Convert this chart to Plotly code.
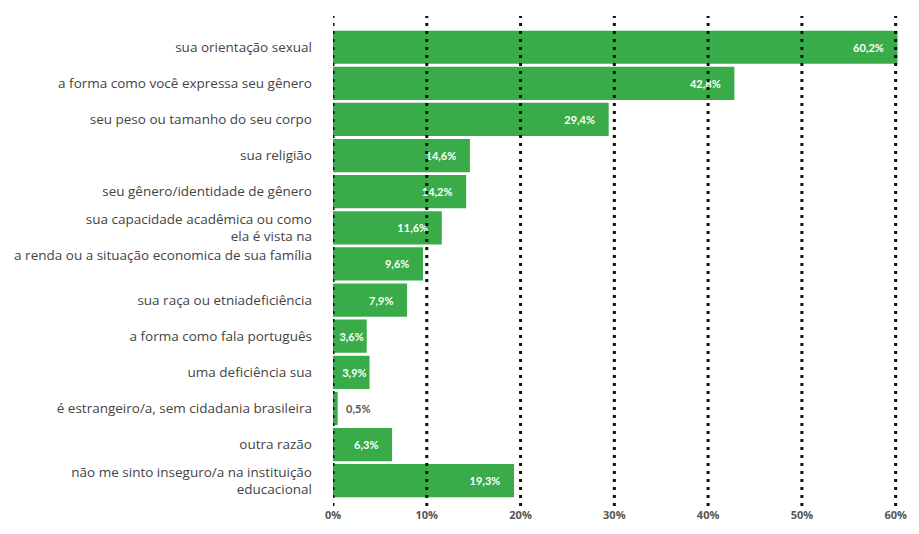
import plotly.graph_objects as go

categories = [
    "sua orientação sexual",
    "a forma como você expressa seu gênero",
    "seu peso ou tamanho do seu corpo",
    "sua religião",
    "seu gênero/identidade de gênero",
    "sua capacidade acadêmica ou como<br>ela é vista na",
    "a renda ou a situação economica de sua família<br> ",
    "sua raça ou etniadeficiência",
    "a forma como fala português",
    "uma deficiência sua",
    "é estrangeiro/a, sem cidadania brasileira",
    "outra razão",
    "não me sinto inseguro/a na instituição<br>educacional",
]
values = [60.2, 42.8, 29.4, 14.6, 14.2, 11.6, 9.6, 7.9, 3.6, 3.9, 0.5, 6.3, 19.3]
tick_values = [0, 10, 20, 30, 40, 50, 60]
tick_labels = ["0%", "10%", "20%", "30%", "40%", "50%", "60%"]

GREEN = "#39AB48"
PAD = "\u00a0" * 4

labels = []
positions = []
colors = []
for v in values:
    s = f"{v:.1f}".replace(".", ",") + "%"
    if v < 2:
        labels.append("\u00a0\u00a0" + s)
        positions.append("outside")
        colors.append("#555555")
    elif v < 5:
        labels.append(s)
        positions.append("inside")
        colors.append("white")
    else:
        labels.append(s + PAD)
        positions.append("inside")
        colors.append("white")

fig = go.Figure(
    go.Bar(
        x=values,
        y=categories,
        orientation="h",
        marker=dict(color=GREEN, line=dict(width=0)),
        text=labels,
        textposition=positions,
        insidetextanchor="end",
        textfont=dict(family="Lato", size=11, color=colors, weight="bold"),
        cliponaxis=False,
        constraintext="none",
    )
)

for t in tick_values:
    fig.add_shape(
        type="line", xref="x", yref="paper", x0=t, x1=t, y0=0, y1=1,
        line=dict(color="#111111", width=3, dash="3px,5px"), layer="above",
    )

fig.update_layout(
    width=919, height=534,
    margin=dict(l=333, r=16, t=16, b=16),
    plot_bgcolor="white", paper_bgcolor="white",
    bargap=0.08,
    showlegend=False,
    font=dict(family="Open Sans", color="#444444"),
)
fig.update_xaxes(
    range=[0, 60.25], tickmode="array", tickvals=tick_values, ticktext=tick_labels,
    showgrid=False, zeroline=False, showline=False,
    tickfont=dict(size=11, color="#555555", weight="bold"), ticks="", ticklabelstandoff=1,
)
fig.update_yaxes(
    range=[12.7, -0.865], showgrid=False, zeroline=False, showline=False,
    tickfont=dict(size=13.5, color="#444444"), ticks="", ticklabelstandoff=20,
)

fig.write_html(
    "out.html",
    config={"displayModeBar": False},
    post_script="document.body.style.margin='0';document.body.style.padding='0';",
)
